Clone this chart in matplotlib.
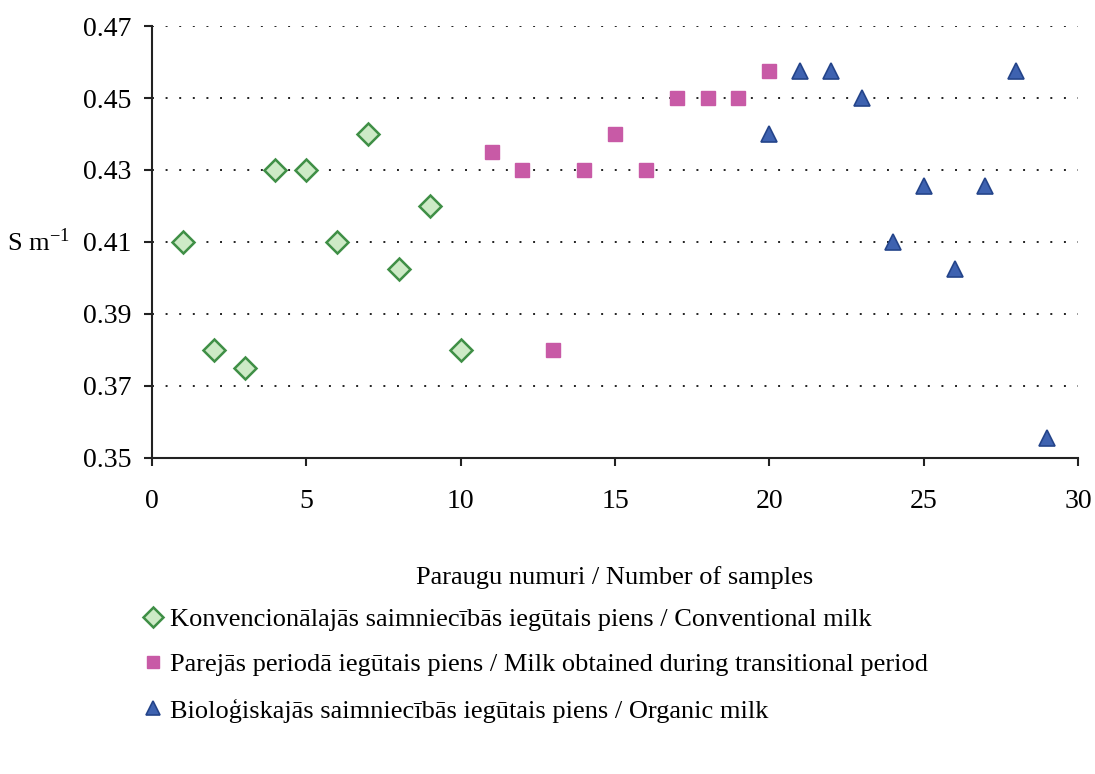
import numpy as np
import matplotlib.pyplot as plt

plt.rcParams['font.family'] = ['Liberation Serif', 'DejaVu Serif']
plt.rcParams['mathtext.fontset'] = 'stix'

# Conventional milk
conv_x = [1, 2, 3, 4, 5, 6, 7, 8, 9, 10]
conv_y = [0.41, 0.38, 0.375, 0.43, 0.43, 0.41, 0.44, 0.4025, 0.42, 0.38]

# Transitional period
trans_x = [11, 12, 13, 14, 15, 16, 17, 18, 19, 20]
trans_y = [0.435, 0.43, 0.38, 0.43, 0.44, 0.43, 0.45, 0.45, 0.45, 0.4575]

# Organic milk
org_x = [20, 21, 22, 23, 24, 25, 26, 27, 28, 29]
org_y = [0.44, 0.4575, 0.4575, 0.45, 0.41, 0.4255, 0.4025, 0.4255, 0.4575, 0.3555]

labels = [
    "Konvencionālajās saimniecībās iegūtais piens / Conventional milk",
    "Parejās periodā iegūtais piens / Milk obtained during transitional period",
    "Bioloģiskajās saimniecībās iegūtais piens / Organic milk",
]
yticks = [0.35, 0.37, 0.39, 0.41, 0.43, 0.45, 0.47]

fig = plt.figure(figsize=(10.95, 7.74), dpi=100)
ax = fig.add_axes([0.1388, 0.4083, 0.8457, 0.5581])

ax.plot(conv_x, conv_y, linestyle='none', marker='D', ms=11.5,
        mfc='#cdeac6', mec='#3f8f46', mew=1.8, label=labels[0])
ax.plot(trans_x, trans_y, linestyle='none', marker='s', ms=10,
        mfc='#c85aa6', mec='#c85aa6', label=labels[1])
ax.plot(org_x, org_y, linestyle='none', marker='^', ms=11.5,
        mfc='#3e62b0', mec='#24448a', mew=1.2, label=labels[2])

ax.set_xlim(0, 30)
ax.set_ylim(0.35, 0.47)
ax.set_xticks([0, 5, 10, 15, 20, 25, 30])
ax.set_yticks(yticks)
ax.set_yticklabels([f"{v:.2f}" for v in yticks])
ax.grid(axis='y', linestyle=(0, (1, 6)), color='#222222', linewidth=1.4)
ax.set_axisbelow(True)

for s in ['top', 'right']:
    ax.spines[s].set_visible(False)
for s in ['left', 'bottom']:
    ax.spines[s].set_linewidth(1.5)
    ax.spines[s].set_color('#222222')
ax.tick_params(axis='both', labelsize=20, width=1.5, length=6, color='#222222')
ax.tick_params(axis='x', pad=16)
ax.tick_params(axis='y', pad=9)

ax.set_xlabel("Paraugu numuri / Number of samples", fontsize=19)
ax.xaxis.set_label_coords(0.5, -0.25)
ax.set_ylabel("S m$^{\\mathregular{-1}}$", fontsize=19, rotation=0,
              ha='center', va='center')
ax.yaxis.set_label_coords(-0.123, 0.5)

fig.legend(loc='upper left', bbox_to_anchor=(0.118, 0.229), frameon=False,
           fontsize=19, labelspacing=0.84, handletextpad=0.15, handlelength=1.0,
           markerscale=0.9, borderaxespad=0)

fig.savefig('out.png', dpi=100)
